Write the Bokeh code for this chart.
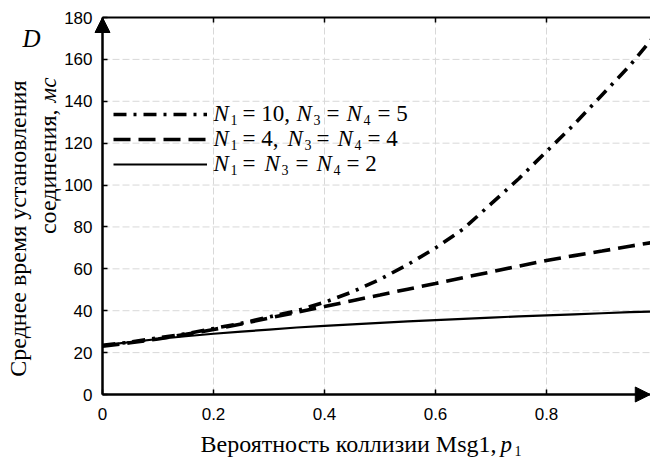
import math
from bokeh.plotting import figure
from bokeh.models import (Range1d, LinearAxis, Label, Legend, LegendItem, Arrow,
                          NormalHead, FixedTicker, ColumnDataSource)
from bokeh.embed import file_html
from bokeh.resources import INLINE

# ---------------- data ----------------
p1 = [0.0, 0.05, 0.1, 0.15, 0.2, 0.25, 0.3, 0.35, 0.4, 0.45, 0.5,
      0.55, 0.6, 0.65, 0.7, 0.75, 0.8, 0.85, 0.9, 0.95, 1.0]
d_10_5 = [23.5, 25, 27, 29, 31.5, 34, 37, 40, 44, 49, 55,
          62, 70, 79, 91, 103, 116, 129, 143, 157, 173]
d_4_4 = [23, 24.7, 26.5, 28.7, 31, 33.7, 36.5, 39.2, 42, 44.8, 47.5,
         50.3, 53, 55.8, 58.5, 61.3, 64, 66.3, 68.5, 70.8, 73]
d_2_2 = [23.5, 25, 26.5, 27.8, 29, 30, 31, 32, 32.8, 33.5, 34.2,
         34.9, 35.5, 36.1, 36.7, 37.3, 37.8, 38.3, 38.8, 39.3, 39.7]

x_ticks = [0, 0.2, 0.4, 0.6, 0.8]
x_tick_labels = ["0", "0.2", "0.4", "0.6", "0.8"]
y_ticks = [0, 20, 40, 60, 80, 100, 120, 140, 160, 180]
y_tick_labels = ["0", "20", "40", "60", "80", "100", "120", "140", "160", "180"]

# ---------------- layout ----------------
W, H = 650, 459
FL, FT, FB = 102, 17, 394          # axes corner positions in page px
X_END = 0.987
Y_END = 180
XS = 555.0                          # px per unit x
YS = (FB - FT) / Y_END              # px per unit y


def dx(px):
    return (px - FL) / XS


def dy(py):
    return (FB - py) / YS


SERIF = "Liberation Serif"
SANS = "Liberation Sans"

p = figure(width=W, height=H,
           x_range=Range1d(dx(0), dx(W)), y_range=Range1d(dy(H), dy(0)),
           output_backend="svg", toolbar_location=None,
           min_border=0, min_border_left=0, min_border_right=0,
           min_border_top=0, min_border_bottom=0)
p.outline_line_color = None
p.background_fill_color = "white"
p.border_fill_color = "white"
p.grid.visible = False

# grid (dashed light grey), limited to the axes box
p.segment(x0=x_ticks[1:], y0=0, x1=x_ticks[1:], y1=Y_END,
          line_color="#d8d8d8", line_dash="7 3", line_width=1)
p.segment(x0=0, y0=y_ticks[1:-1], x1=X_END, y1=y_ticks[1:-1],
          line_color="#d8d8d8", line_dash="7 3", line_width=1)

src = ColumnDataSource(dict(x=p1, a=d_10_5, b=d_4_4, c=d_2_2))
r1 = p.line("x", "a", source=src, line_color="black", line_width=3.6, line_dash="13 7 3 7")
r2 = p.line("x", "b", source=src, line_color="black", line_width=3.6, line_dash="17 8")
r3 = p.line("x", "c", source=src, line_color="black", line_width=2.2)


def style_axis(ax):
    ax.axis_line_width = 2
    ax.axis_line_color = "black"
    ax.major_tick_in = 5
    ax.major_tick_out = 0
    ax.minor_tick_in = 0
    ax.minor_tick_out = 0
    ax.major_tick_line_width = 1.5
    ax.major_tick_line_color = "black"
    ax.major_label_text_font = SANS
    ax.major_label_text_font_size = "17px"
    ax.major_label_text_color = "black"


xa = p.xaxis[0]
ya = p.yaxis[0]
style_axis(xa)
style_axis(ya)
xa.fixed_location = 0
xa.bounds = (0, X_END)
xa.ticker = FixedTicker(ticks=x_ticks)
xa.major_label_overrides = dict(zip(x_ticks, x_tick_labels))
xa.major_label_standoff = 13
ya.fixed_location = 0
ya.bounds = (0, Y_END)
ya.ticker = FixedTicker(ticks=y_ticks)
ya.major_label_overrides = dict(zip(y_ticks, y_tick_labels))
ya.major_label_standoff = 10

top = LinearAxis(fixed_location=Y_END, bounds=(0, X_END), ticker=FixedTicker(ticks=x_ticks),
                 major_label_overrides={t: "" for t in x_ticks})
style_axis(top)
top.major_label_text_font_size = "1px"
p.add_layout(top, "above")

# axis arrows
p.add_layout(Arrow(end=NormalHead(size=15, fill_color="black", line_color="black"),
                   x_start=0, y_start=0, x_end=0, y_end=Y_END, line_color="black", line_width=2))
p.add_layout(Arrow(end=NormalHead(size=15, fill_color="black", line_color="black"),
                   x_start=0, y_start=0, x_end=X_END, y_end=0, line_color="black", line_width=2))

# legend (line samples only; rich text labels drawn below)
legend = Legend(items=[LegendItem(label="", renderers=[r1]),
                       LegendItem(label="", renderers=[r2]),
                       LegendItem(label="", renderers=[r3])],
                location=(113, H - 174), glyph_width=94, glyph_height=20,
                label_width=0, label_height=20, label_standoff=0, spacing=5,
                padding=0, margin=0, border_line_color=None, background_fill_alpha=0,
                label_text_font_size="1px")
p.add_layout(legend)

BASE_FIX = 0.3   # renderer places the alphabetic baseline ~0.3em low; compensate


def txt(px, py, s, size, style="normal", align="left", angle=0.0):
    if angle:
        px = px - BASE_FIX * size
    else:
        py = py - BASE_FIX * size
    p.add_layout(Label(x=dx(px), y=dy(py), text=s, text_font=SERIF,
                       text_font_size=f"{size}px", text_font_style=style,
                       text_align=align, text_baseline="alphabetic", angle=angle,
                       text_color="black"))


# legend rich text rows
rows = [
    (120, [(213, "N", "i"), (230, "1", "s"), (242, "= 10,", "n"), (296, "N", "i"), (313, "3", "s"),
           (326, "=", "n"), (346, "N", "i"), (363, "4", "s"), (377, "= 5", "n")]),
    (145, [(213, "N", "i"), (230, "1", "s"), (242, "= 4,", "n"), (287, "N", "i"), (304, "3", "s"),
           (316, "=", "n"), (337, "N", "i"), (354, "4", "s"), (367, "= 4", "n")]),
    (170, [(213, "N", "i"), (230, "1", "s"), (242, "=", "n"), (264, "N", "i"), (281, "3", "s"),
           (295, "=", "n"), (316, "N", "i"), (333, "4", "s"), (346, "= 2", "n")]),
]
for base, pieces in rows:
    for px, s, kind in pieces:
        if kind == "i":
            txt(px, base, s, 23, "italic")
        elif kind == "s":
            txt(px, base + 4, s, 14)
        else:
            txt(px, base, s, 23)

# D label
txt(22, 45, "D", 25, "italic")

# y label (two lines, rotated)
txt(25, 80, "Среднее время установления", 24, align="right", angle=math.pi / 2)
txt(55, 77, "мс", 23, "italic", align="right", angle=math.pi / 2)
txt(55, 109, "соединения,", 24, align="right", angle=math.pi / 2)

# x label
txt(200, 451, "Вероятность коллизии Msg1,", 24)
txt(500, 451, "p", 23, "italic")
txt(514, 455, "1", 14)

open("out.html", "w").write(file_html(p, INLINE))
